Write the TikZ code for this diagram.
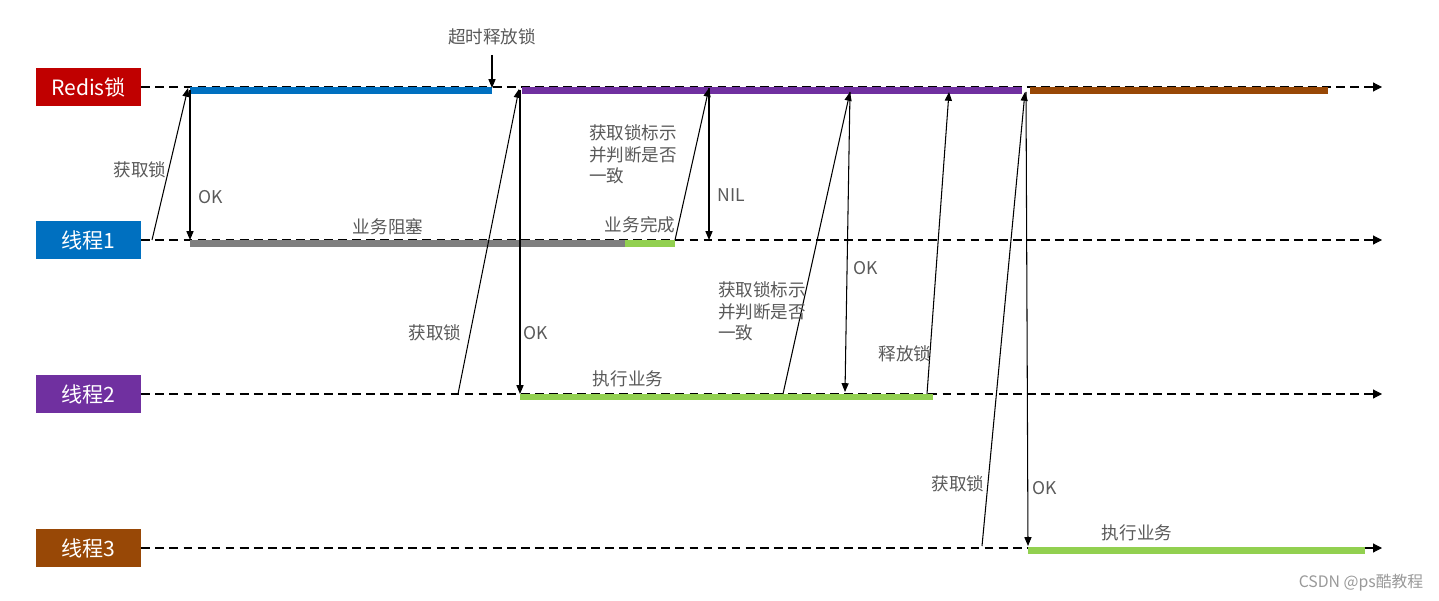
\documentclass[tikz,border=0pt]{standalone}
\usepackage{fontspec}
\setmainfont{Noto Sans CJK SC}
\usetikzlibrary{arrows.meta}
\definecolor{cred}{HTML}{C00000}
\definecolor{cblue}{HTML}{0070C0}
\definecolor{cpurple}{HTML}{7030A0}
\definecolor{cbrown}{HTML}{984806}
\definecolor{cgreen}{HTML}{92D050}
\definecolor{cgray}{HTML}{7F7F7F}
\definecolor{ctext}{HTML}{595959}
\begin{document}
\begin{tikzpicture}[x=0.02cm,y=-0.02cm,
  lane/.style={draw=none,fill=#1,text=white,minimum width=2.1cm,minimum height=0.76cm,inner sep=0pt,font=\fontsize{12}{14}\selectfont},
  tl/.style={dashed,line width=0.6pt,dash pattern=on 5pt off 3pt,-{Triangle[length=5pt,width=5pt]}},
  bar/.style={line width=3.5pt,#1},
  msg/.style={line width=0.6pt,-{Triangle[length=5pt,width=4pt]}},
  lbl/.style={text=ctext,font=\fontsize{10}{12}\selectfont,inner sep=1pt},
  lblL/.style={text=ctext,font=\fontsize{10}{12}\selectfont,inner sep=1pt,align=left,anchor=north west}]
\useasboundingbox (0,0) rectangle (1439,601);
\node[lane=cred] (r) at (88.5,87) {Redis锁};
\node[lane=cblue] (t1) at (88.5,240) {线程1};
\node[lane=cpurple] (t2) at (88.5,394) {线程2};
\node[lane=cbrown] (t3) at (88.5,548) {线程3};
\coordinate (re) at (1382,87);\coordinate (t1e) at (1382,240);
\coordinate (t2e) at (1382,394);\coordinate (t3e) at (1382,548);
\draw[tl] (r.east) -- (re);
\draw[tl] (t1.east) -- (t1e);
\draw[tl] (t2.east) -- (t2e);
\draw[tl] (t3.east) -- (t3e);
% bars
\draw[bar=cblue] (190,90.5) -- (492,90.5);
\draw[bar=cpurple] (522,90.5) -- (1022,90.5);
\draw[bar=cbrown] (1030,90.5) -- (1328,90.5);
\draw[bar=cgray] (190,243.5) -- (625,243.5);
\draw[bar=cgreen] (625,243.5) -- (675,243.5);
\draw[bar=cgreen] (520,397) -- (933,397);
\draw[bar=cgreen] (1028,550.5) -- (1365,550.5);
% coordinates
\coordinate (a1) at (152,240);\coordinate (a2) at (188,88);
\coordinate (b1) at (190,90);\coordinate (b2) at (190,240);
\coordinate (c1) at (492,55);\coordinate (c2) at (492,88);
\coordinate (d1) at (458,394);\coordinate (d2) at (519,89);
\coordinate (e1) at (520,90);\coordinate (e2) at (520,394);
\coordinate (f1) at (675,240);\coordinate (f2) at (709,88);
\coordinate (g1) at (709,88);\coordinate (g2) at (709,240);
\coordinate (h1) at (783,394);\coordinate (h2) at (850,92);
\coordinate (i1) at (850,92);\coordinate (i2) at (845,392);
\coordinate (j1) at (927,394);\coordinate (j2) at (949,92);
\coordinate (k1) at (982,546);\coordinate (k2) at (1025,92);
\coordinate (l1) at (1026,92);\coordinate (l2) at (1028,546);
\draw[msg] (a1) -- (a2);
\draw[msg] (b1) -- (b2);
\draw[msg] (c1) -- (c2);
\draw[msg] (d1) -- (d2);
\draw[msg] (e1) -- (e2);
\draw[msg] (f1) -- (f2);
\draw[msg] (g1) -- (g2);
\draw[msg] (h1) -- (h2);
\draw[msg] (i1) -- (i2);
\draw[msg] (j1) -- (j2);
\draw[msg] (k1) -- (k2);
\draw[msg] (l1) -- (l2);
% labels
\node[lbl] (n1) at (140,170) {获取锁};
\node[lbl] (n2) at (211,197) {OK};
\node[lbl] (n3) at (492,37) {超时释放锁};
\node[lbl] (n4) at (435,333) {获取锁};
\node[lbl] (n5) at (536,333) {OK};
\node[lblL] (n6) at (587,123) {获取锁标示\\并判断是否\\一致};
\node[lbl] (n7) at (731,195) {NIL};
\node[lblL] (n8) at (716,280) {获取锁标示\\并判断是否\\一致};
\node[lbl] (n9) at (866,268) {OK};
\node[lbl] (n10) at (905,354) {释放锁};
\node[lbl] (n11) at (958,484) {获取锁};
\node[lbl] (n12) at (1045,488) {OK};
\node[lbl] (n13) at (388,227) {业务阻塞};
\node[lbl] (n14) at (640,225) {业务完成};
\node[lbl] (n15) at (628,379) {执行业务};
\node[lbl] (n16) at (1137,533) {执行业务};
\node[text=gray!80,font=\fontsize{9}{11}\selectfont] (w) at (1361,583) {CSDN @ps酷教程};
\end{tikzpicture}
\end{document}
